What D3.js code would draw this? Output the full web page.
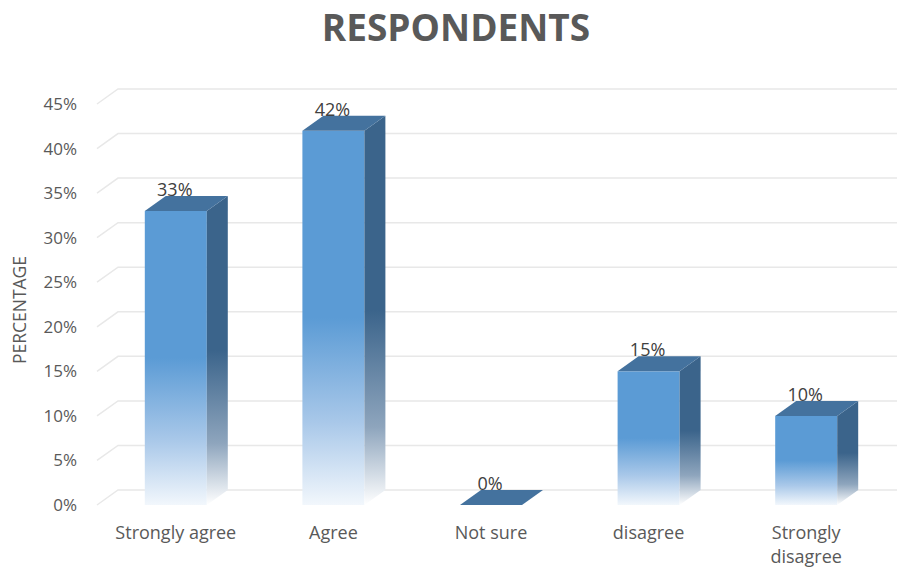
<!DOCTYPE html>
<html>
<head>
<meta charset="utf-8">
<script src="https://cdn.jsdelivr.net/npm/d3@7"></script>
<style>
  html, body { margin: 0; padding: 0; background: #fff; }
  svg { display: block; font-family: "Open Sans", sans-serif; }
</style>
</head>
<body>
<svg id="chart" width="898" height="568"></svg>
<script>
// Survey answers, share of respondents (%)
const categories = ["Strongly agree", "Agree", "Not sure", "disagree", "Strongly disagree"];
const values = [33, 42, 0, 15, 10];
const yTicks = [0, 5, 10, 15, 20, 25, 30, 35, 40, 45];

const svg = d3.select("#chart");

// 3D look: depth offset of the back wall relative to the front plane
const depthX = 21, depthY = -15;

const x = d3.scaleBand().domain(categories).range([97, 885]).paddingInner(0).paddingOuter(0);
const y = d3.scaleLinear().domain([0, 45]).range([505, 104]);
const barW = 62;

const defs = svg.append("defs");

// front face fades from solid blue to near-white toward the floor
const gFront = defs.append("linearGradient").attr("id", "gFront")
  .attr("x1", 0).attr("y1", 0).attr("x2", 0).attr("y2", 1);
gFront.append("stop").attr("offset", 0).attr("stop-color", "#5b9bd5");
gFront.append("stop").attr("offset", 0.5).attr("stop-color", "#5b9bd5");
gFront.append("stop").attr("offset", 0.78).attr("stop-color", "#a9c8e9");
gFront.append("stop").attr("offset", 1).attr("stop-color", "#f2f7fc");

const gSide = defs.append("linearGradient").attr("id", "gSide")
  .attr("x1", 0).attr("y1", 0).attr("x2", 0).attr("y2", 1);
gSide.append("stop").attr("offset", 0).attr("stop-color", "#3b648b");
gSide.append("stop").attr("offset", 0.5).attr("stop-color", "#3b648b");
gSide.append("stop").attr("offset", 0.8).attr("stop-color", "#8ea5bd");
gSide.append("stop").attr("offset", 1).attr("stop-color", "#ffffff");

// title
svg.append("text")
  .attr("x", 456).attr("y", 41)
  .attr("text-anchor", "middle")
  .attr("font-size", 37).attr("font-weight", 700)
  .attr("fill", "#595959")
  .text("RESPONDENTS");

// gridlines: short diagonal on the side wall, then across the back wall
const x0 = x.range()[0];
const grid = svg.append("g").attr("fill", "none").attr("stroke", "#e8e8e8").attr("stroke-width", 1.5);
yTicks.forEach(t => {
  const yy = y(t);
  grid.append("path")
    .attr("d", `M${x0},${yy} L${x0 + depthX},${yy + depthY} L897,${yy + depthY}`);
});

// y tick labels
svg.append("g").selectAll("text").data(yTicks).join("text")
  .attr("x", 77).attr("y", d => y(d) + 6)
  .attr("text-anchor", "end")
  .attr("font-size", 17).attr("fill", "#595959")
  .text(d => d + "%");

// y axis title
svg.append("text")
  .attr("transform", "translate(26,310) rotate(-90)")
  .attr("text-anchor", "middle")
  .attr("font-size", 17.5).attr("fill", "#595959")
  .text("PERCENTAGE");

// bars
const bars = svg.append("g").selectAll("g").data(categories).join("g");
bars.each(function (c, i) {
  const g = d3.select(this);
  const v = values[i];
  const cx = x(c) + x.bandwidth() / 2;
  const l = cx - barW / 2, r = cx + barW / 2;
  const top = y(v), bot = y(0);
  const h = bot - top;
  if (h > 0) {
    g.append("rect").attr("x", l).attr("y", top).attr("width", barW).attr("height", h)
      .attr("fill", "url(#gFront)");
    g.append("path")
      .attr("d", `M${r},${top} L${r + depthX},${top + depthY} L${r + depthX},${bot + depthY} L${r},${bot} Z`)
      .attr("fill", "url(#gSide)");
  }
  g.append("path")
    .attr("d", `M${l},${top} L${l + depthX},${top + depthY} L${r + depthX},${top + depthY} L${r},${top} Z`)
    .attr("fill", "#44729e");
  // value label
  g.append("text")
    .attr("x", cx - 1).attr("y", top - 15)
    .attr("text-anchor", "middle")
    .attr("font-size", 18).attr("fill", "#404040")
    .text(v + "%");
});

// category labels, wrapping long names onto two lines
const xl = svg.append("g");
categories.forEach(c => {
  const cx = x(c) + x.bandwidth() / 2;
  const words = c.split(" ");
  const lines = (c.length > 14) ? [words[0], words.slice(1).join(" ")] : [c];
  const t = xl.append("text").attr("text-anchor", "middle")
    .attr("font-size", 18).attr("fill", "#595959");
  lines.forEach((ln, k) => {
    t.append("tspan").attr("x", cx).attr("y", 539 + k * 24).text(ln);
  });
});
</script>
</body>
</html>
